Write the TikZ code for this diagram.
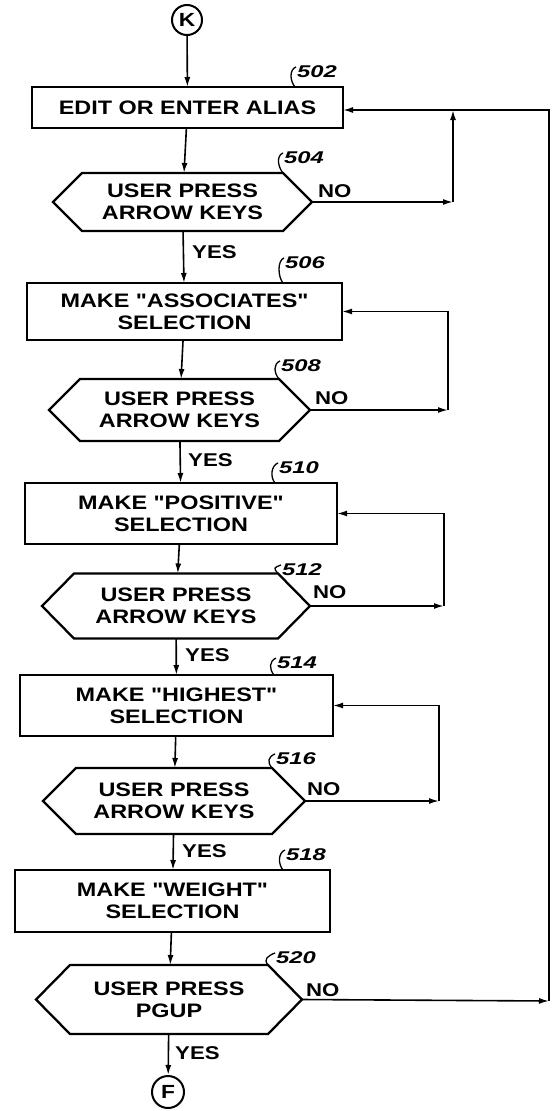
\documentclass[tikz,border=0pt]{standalone}
\usepackage{fontspec}
\setmainfont{Liberation Sans}
\newfontfamily\lblfont[FakeStretch=1.2]{Liberation Sans}
\newfontfamily\numfont[FakeStretch=1.4]{Liberation Sans}
\usetikzlibrary{arrows.meta}
\newcommand\mydec[2]{%
  \draw[shapeline] (#1.north west) -- (#1.north east) -- ([xshift=#2]#1.east) -- (#1.south east) -- (#1.south west) -- ([xshift=-#2]#1.west) -- cycle;
  \coordinate (#1-tip) at ([xshift=#2]#1.east);}
\begin{document}
\begin{tikzpicture}[x=1pt,y=-1pt,
  txt/.style={font=\lblfont\bfseries\fontsize{19.5}{22}\selectfont, align=center},
  box/.style={txt, draw, line width=2.3pt, inner sep=0pt, outer sep=0pt},
  dec/.style={txt, inner sep=0pt, outer sep=0pt},
  shapeline/.style={line width=2.3pt, line join=miter},
  conn/.style={draw, line width=2pt, circle, inner sep=0pt, minimum size=#1, font=\lblfont\bfseries\fontsize{19}{19}\selectfont},
  lab/.style={font=\numfont\itshape\bfseries\fontsize{17}{17}\selectfont, anchor=base west, inner sep=0pt},
  yn/.style={font=\lblfont\bfseries\fontsize{18.5}{18.5}\selectfont, anchor=base west, inner sep=0pt},
  arr/.style={line width=1.6pt, -{Latex[length=10pt,width=6pt]}},
  sq/.style={line width=1.3pt}]
\useasboundingbox (0,0) rectangle (554,1111);

% connectors K and F
\node[conn=30pt] (K) at (187,20) {K};
\node[conn=32pt] (F) at (168,1092) {F};

% boxes
\node[box, minimum width=311pt, minimum height=41pt] (b502) at (187.5,107.5) {EDIT OR ENTER ALIAS};
\node[box, minimum width=315pt, minimum height=57pt] (b506) at (184.5,311.5) {MAKE "ASSOCIATES"\\SELECTION};
\node[box, minimum width=312pt, minimum height=61pt] (b510) at (181,513.5) {MAKE "POSITIVE"\\SELECTION};
\node[box, minimum width=313pt, minimum height=61pt] (b514) at (176.5,705.5) {MAKE "HIGHEST"\\SELECTION};
\node[box, minimum width=315pt, minimum height=62pt] (b518) at (172.5,901) {MAKE "WEIGHT"\\SELECTION};

% decisions
\node[dec, minimum width=201pt, minimum height=58pt] (d504) at (182.5,202) {USER PRESS\\ARROW KEYS};
\mydec{d504}{29pt}
\node[dec, minimum width=199pt, minimum height=62pt] (d508) at (179.5,410) {USER PRESS\\ARROW KEYS};
\mydec{d508}{31pt}
\node[dec, minimum width=204pt, minimum height=65pt] (d512) at (176,606) {USER PRESS\\ARROW KEYS};
\mydec{d512}{32pt}
\node[dec, minimum width=196pt, minimum height=66pt] (d516) at (174,801) {USER PRESS\\ARROW KEYS};
\mydec{d516}{33pt}
\node[dec, minimum width=198pt, minimum height=69pt] (d520) at (169,999.5) {USER PRESS\\PGUP};
\mydec{d520}{34pt}

% main flow
\draw[arr] (K) -- (b502);
\draw[arr] (b502) -- (d504);
\draw[arr] (d504) -- (b506);
\draw[arr] (b506) -- (d508);
\draw[arr] (d508) -- (b510);
\draw[arr] (b510) -- (d512);
\draw[arr] (d512) -- (b514);
\draw[arr] (b514) -- (d516);
\draw[arr] (d516) -- (b518);
\draw[arr] (b518) -- (d520);
\draw[arr] (d520) -- (F);

% YES labels
\node[yn] (y504) at (192,258) {YES};
\node[yn] (y508) at (188,466) {YES};
\node[yn] (y512) at (185,661) {YES};
\node[yn] (y516) at (182,857) {YES};
\node[yn] (y520) at (175,1059) {YES};

% NO labels
\node[yn] (n504) at (318,197) {NO};
\node[yn] (n508) at (315,404) {NO};
\node[yn] (n512) at (313,598) {NO};
\node[yn] (n516) at (307,795) {NO};
\node[yn] (n520) at (306,996) {NO};

% feedback loops
\coordinate (c504) at (453,202);
\coordinate (j502) at (453,110);
\draw[arr] (d504-tip) -- (c504);
\draw[arr] (c504) -- (j502);

\coordinate (c508) at (448,410);
\draw[arr] (d508-tip) -- (c508);
\draw[arr] (c508) |- (b506.east);

\coordinate (c512) at (444,606);
\draw[arr] (d512-tip) -- (c512);
\draw[arr] (c512) |- (b510.east);

\coordinate (c516) at (439,801);
\draw[arr] (d516-tip) -- (c516);
\draw[arr] (c516) |- (b514.east);

\coordinate (c520) at (549,1001);
\coordinate (r502) at (549,110);
\draw[arr] (d520-tip) -- (c520);
\draw[arr] (c520) -- (r502) -- (r502 -| b502.east);

% reference numerals with leaders
\node[lab] (l502) at (297,77) {502};
\coordinate (s502) at ([xshift=-48pt]b502.north east);
\node[lab] (l504) at (284,163) {504};
\node[lab] (l506) at (285,268) {506};
\coordinate (s506) at ([xshift=-59pt]b506.north east);
\node[lab] (l508) at (281,371) {508};
\node[lab] (l510) at (279,473) {510};
\coordinate (s510) at ([xshift=-62pt]b510.north east);
\node[lab] (l512) at (282,575) {512};
\node[lab] (l514) at (277,668) {514};
\coordinate (s514) at ([xshift=-59pt]b514.north east);
\node[lab] (l516) at (276,764) {516};
\node[lab] (l518) at (286,860) {518};
\coordinate (s518) at ([xshift=-47pt]b518.north east);
\node[lab] (l520) at (276,963) {520};

\foreach \l/\e in {l502/s502, l504/d504.north east, l506/s506, l508/d508.north east, l510/s510, l512/d512.north east, l514/s514, l516/d516.north east, l518/s518, l520/d520.north east}
  \draw[sq] ([xshift=-1pt,yshift=-2pt]\l.north west) .. controls +(-7,3) and +(-5,-6) .. (\e);
\end{tikzpicture}
\end{document}
